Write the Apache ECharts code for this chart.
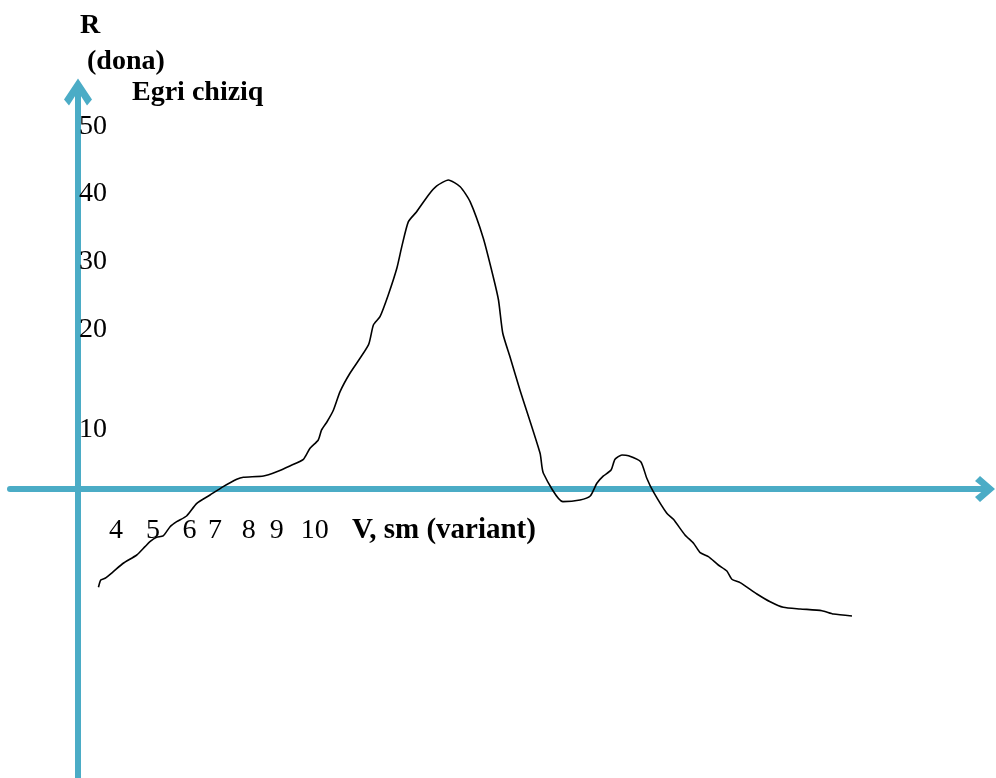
<!DOCTYPE html>
<html>
<head>
<meta charset="utf-8">
<title>Egri chiziq</title>
<script src="https://cdn.jsdelivr.net/npm/echarts@6/dist/echarts.min.js"></script>
<style>
    html, body {
        margin: 0;
        padding: 0;
        background: #ffffff;
    }

    #chart {
        width: 996px;
        height: 778px;
    }
</style>
</head>
<body>
<div id="chart"></div>
<script>
    // curve points (x: variant steps from the R axis, y: approx. R units)
    const curveV = [
        0.62, 0.69, 0.82, 1.07, 1.37, 1.78, 2.03, 2.18, 2.38, 2.58,
        2.79, 2.99, 3.29, 3.60, 4.00, 4.40, 4.81, 5.01, 5.62, 6.02,
        6.42, 6.83, 7.03, 7.28, 7.38, 7.55, 7.74, 7.94, 8.24, 8.80,
        8.95, 9.15, 9.40, 9.66, 9.81, 10.01, 10.26, 10.62, 10.87, 11.22,
        11.58, 11.88, 12.28, 12.58, 12.74, 12.87, 13.09, 13.39, 14.00, 14.10,
        14.69, 15.21, 15.52, 15.72, 15.92, 16.15, 16.27, 16.48, 16.68, 17.05,
        17.23, 17.43, 17.84, 18.04, 18.39, 18.65, 18.85, 19.10, 19.40, 19.66,
        19.81, 20.06, 20.57, 20.97, 21.37, 21.88, 22.54, 22.89, 23.45
    ];
    const curveR = [
        -13.58, -12.57, -12.33, -11.42, -10.26, -9.12, -7.97, -7.28, -6.67, -6.49,
        -5.21, -4.52, -3.73, -1.98, -0.83, 0.32, 1.34, 1.62, 1.80, 2.39,
        3.18, 4.10, 5.62, 6.77, 8.15, 9.32, 10.91, 13.44, 15.98, 19.89,
        22.65, 23.80, 26.80, 30.48, 33.47, 36.92, 38.30, 40.61, 41.85, 42.68,
        41.75, 39.68, 34.63, 29.32, 26.10, 21.51, 18.23, 13.67, 4.93, 2.17,
        -1.75, -1.52, -0.97, 0.79, 1.80, 2.62, 4.10, 4.70, 4.60, 3.77,
        1.52, -0.37, -3.36, -4.19, -6.35, -7.50, -8.80, -9.35, -10.50, -11.33,
        -12.47, -12.94, -14.50, -15.57, -16.34, -16.57, -16.81, -17.27, -17.54
    ];

    // tick labels and where they sit on the (hand drawn) axes
    const yTickPos = [8.15, 21.96, 31.35, 40.75, 50.0];
    const yTickLabels = ['10', '20', '30', '40', '50'];
    const xTickPos = [1.15, 2.27, 3.38, 4.15, 5.17, 6.02, 7.17];
    const xTickLabels = ['4', '5', '6', '7', '8', '9', '10'];

    const axisColor = '#4BACC6';
    const font = "'Liberation Serif', 'Times New Roman', serif";

    let chart = echarts.init(document.getElementById('chart'), null, {renderer: 'canvas'});

    let points = curveV.map(function (v, i) {
        return [v, curveR[i]];
    });

    function lookup(pos, labels, value) {
        for (let i = 0; i < pos.length; i++) {
            if (Math.abs(pos[i] - value) < 1e-6) return labels[i];
        }
        return '';
    }

    chart.setOption({
        animation: false,
        backgroundColor: '#ffffff',
        grid: {
            left: 10,
            right: 11,
            top: 92,
            bottom: 0,
            outerBoundsMode: 'none'
        },
        xAxis: {
            type: 'value',
            min: -2.06,
            max: 27.48,
            // axis moved up from the grid bottom to R = 0
            offset: -289,
            axisLine: {
                onZero: false,
                symbol: ['none', 'path://M13 0 L26 15 L21 20 L13 10 L5 20 L0 15 Z'],
                symbolSize: [26, 20],
                lineStyle: {color: axisColor, width: 6}
            },
            axisTick: {show: false},
            splitLine: {show: false},
            axisLabel: {
                customValues: xTickPos,
                margin: 28,
                color: '#000',
                fontFamily: font,
                fontSize: 28,
                formatter: function (val) {
                    return lookup(xTickPos, xTickLabels, val);
                }
            }
        },
        yAxis: {
            type: 'value',
            min: -39.92,
            max: 54.83,
            // axis moved right from the grid edge to V = 0
            offset: -68,
            axisLine: {
                onZero: false,
                symbol: ['none', 'path://M14 0 L28 21 L23 27 L14 13 L5 27 L0 21 Z'],
                symbolSize: [28, 27],
                lineStyle: {color: axisColor, width: 6}
            },
            axisTick: {show: false},
            splitLine: {show: false},
            axisLabel: {
                customValues: yTickPos,
                inside: true,
                margin: 1,
                color: '#000',
                fontFamily: font,
                fontSize: 28,
                formatter: function (val) {
                    return lookup(yTickPos, yTickLabels, val);
                }
            }
        },
        series: [
            {
                type: 'line',
                data: points,
                showSymbol: false,
                smooth: 0.2,
                z: 1,
                lineStyle: {color: '#000', width: 1.6}
            }
        ],
        // captions of the drawing
        graphic: [
            {type: 'text', x: 80, y: 26, style: {text: 'R', fill: '#000', font: 'bold 28px ' + font, verticalAlign: 'middle'}},
            {type: 'text', x: 87, y: 62, style: {text: '(dona)', fill: '#000', font: 'bold 28px ' + font, verticalAlign: 'middle'}},
            {type: 'text', x: 132, y: 93, style: {text: 'Egri chiziq', fill: '#000', font: 'bold 28px ' + font, verticalAlign: 'middle'}},
            {type: 'text', x: 352, y: 531, style: {text: 'V, sm (variant)', fill: '#000', font: 'bold 29px ' + font, verticalAlign: 'middle'}}
        ]
    });
    window.onresize = chart.resize;
</script>
</body>
</html>
